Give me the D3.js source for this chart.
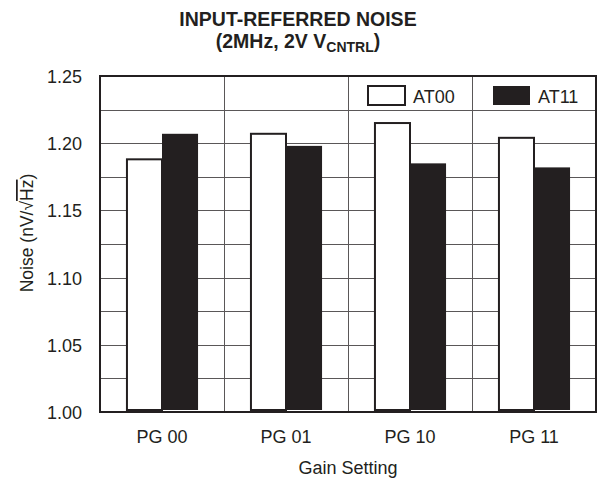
<!DOCTYPE html>
<html>
<head>
<meta charset="utf-8">
<script src="https://cdn.jsdelivr.net/npm/d3@7"></script>
<style>
  body { margin: 0; background: #fff; }
  text { font-family: "Liberation Sans", Arial, sans-serif; fill: #231f20; }
</style>
</head>
<body>
<div id="chart"></div>
<script>
var categories = ["PG 00", "PG 01", "PG 10", "PG 11"];
var seriesNames = ["AT00", "AT11"];
var at00 = [1.188, 1.207, 1.215, 1.204];
var at11 = [1.207, 1.198, 1.185, 1.182];
var yTicks = [1.00, 1.05, 1.10, 1.15, 1.20, 1.25];

var width = 597, height = 482;
var margin = {top: 76, right: 1, bottom: 70, left: 100};
var ink = "#231f20";

var svg = d3.select("#chart").append("svg")
  .attr("width", width)
  .attr("height", height);

// scales
var x0 = d3.scaleBand().domain(categories)
  .range([margin.left, width - margin.right]).padding(0);
var x1 = d3.scaleBand().domain(seriesNames)
  .range([0, x0.bandwidth()]).paddingInner(0).paddingOuter(0.72);
var y = d3.scaleLinear().domain([1.0, 1.25])
  .range([height - margin.bottom, margin.top]);

// grid
var grid = svg.append("g");
grid.selectAll(".hg")
  .data(d3.range(1.025, 1.25, 0.025))
  .enter().append("line")
  .attr("x1", margin.left).attr("x2", width - margin.right)
  .attr("y1", function(d) { return Math.round(y(d)) + 0.5; })
  .attr("y2", function(d) { return Math.round(y(d)) + 0.5; })
  .attr("stroke", "#5a5758").attr("stroke-width", 1);
grid.selectAll(".vg")
  .data(categories.slice(1))
  .enter().append("line")
  .attr("x1", function(d) { return Math.round(x0(d)) + 0.5; })
  .attr("x2", function(d) { return Math.round(x0(d)) + 0.5; })
  .attr("y1", margin.top).attr("y2", height - margin.bottom)
  .attr("stroke", "#5a5758").attr("stroke-width", 1);

// bars
var rows = categories.map(function(c, i) {
  return {cat: c, vals: [{s: "AT00", v: at00[i]}, {s: "AT11", v: at11[i]}]};
});
var groups = svg.selectAll(".grp")
  .data(rows).enter().append("g")
  .attr("transform", function(d) { return "translate(" + x0(d.cat) + ",0)"; });
groups.selectAll("rect")
  .data(function(d) { return d.vals; })
  .enter().append("rect")
  .attr("x", function(d) { return x1(d.s) + (d.s == "AT00" ? 1 : 0); })
  .attr("width", function(d) { return x1.bandwidth() - (d.s == "AT00" ? 1 : 0); })
  .attr("y", function(d) { return y(d.v); })
  .attr("height", function(d) { return y(1.0) - y(d.v) - 2; })
  .attr("fill", function(d) { return d.s == "AT00" ? "#fff" : ink; })
  .attr("stroke", ink)
  .attr("stroke-width", function(d) { return d.s == "AT00" ? 2 : 0; });

// frame
svg.append("rect")
  .attr("x", margin.left).attr("y", margin.top)
  .attr("width", width - margin.left - margin.right)
  .attr("height", height - margin.top - margin.bottom)
  .attr("fill", "none").attr("stroke", ink).attr("stroke-width", 2);

// y tick labels
svg.selectAll(".yt")
  .data(yTicks).enter().append("text")
  .attr("x", 82)
  .attr("y", function(d) { return y(d) + 7; })
  .attr("text-anchor", "end")
  .style("font-size", "18px")
  .text(function(d) { return d.toFixed(2); });

// x labels
svg.selectAll(".xt")
  .data(categories).enter().append("text")
  .attr("x", function(d) { return x0(d) + x0.bandwidth() / 2; })
  .attr("y", 443)
  .attr("text-anchor", "middle")
  .style("font-size", "18px")
  .text(function(d) { return d; });

svg.append("text")
  .attr("x", x0.range()[0] + (x0.range()[1] - x0.range()[0]) / 2)
  .attr("y", 474)
  .attr("text-anchor", "middle")
  .style("font-size", "18px")
  .text("Gain Setting");

// y axis title
var yl = svg.append("text")
  .attr("transform", "translate(33,233) rotate(-90)")
  .attr("text-anchor", "middle")
  .style("font-size", "17.5px");
yl.append("tspan").text("Noise (nV/\u221A");
yl.append("tspan").style("text-decoration", "overline").text("Hz");
yl.append("tspan").text(")");

// title
var title = svg.append("g").style("font-weight", "bold").style("font-size", "19.5px");
title.append("text")
  .attr("x", 298).attr("y", 26)
  .attr("text-anchor", "middle")
  .style("font-weight", "bold")
  .text("INPUT-REFERRED NOISE");
var t2 = title.append("text")
  .attr("x", 298).attr("y", 48)
  .attr("text-anchor", "middle")
  .style("font-weight", "bold");
t2.append("tspan").text("(2MHz, 2V V");
t2.append("tspan").attr("dy", 4).style("font-size", "14px").text("CNTRL");
t2.append("tspan").attr("dy", -4).text(")");

// legend
var legendX = [368, 493];
var leg = svg.selectAll(".leg")
  .data(seriesNames).enter().append("g")
  .attr("transform", function(d, i) { return "translate(" + legendX[i] + ",86)"; });
leg.append("rect")
  .attr("width", 37).attr("height", 19)
  .attr("fill", function(d) { return d == "AT00" ? "#fff" : ink; })
  .attr("stroke", ink)
  .attr("stroke-width", function(d) { return d == "AT00" ? 2 : 0; });
leg.append("text")
  .attr("x", 45).attr("y", 17)
  .style("font-size", "18px")
  .text(function(d) { return d; });
</script>
</body>
</html>
